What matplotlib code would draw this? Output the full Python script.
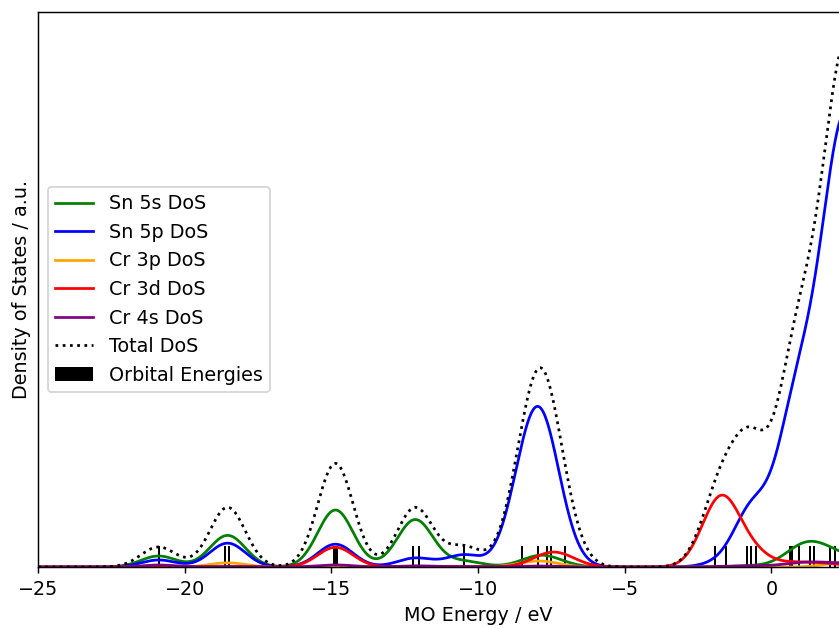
import numpy as np
import matplotlib
matplotlib.use("Agg")
import matplotlib.pyplot as plt

energies = [-20.89, -18.63, -18.49, -14.92, -14.86, -14.80, -12.21, -12.00,
            -10.47, -8.49, -7.94, -7.65, -7.52, -7.03, -1.91, -1.54,
            -0.83, -0.69, -0.51, 0.63, 0.69, 0.93, 1.31, 1.44, 1.99, 2.16,
            2.45, 2.75, 3.1, 3.5]
weights = [1, 1, 2, 2, 1.2, 2, 2, 1,
           1, 3, 4.3, 2, 2, 1, 2, 2,
           1.8, 1.9, 1.9, 3, 3, 2, 2, 3, 5, 5,
           6, 7, 6, 6]

# fragment contributions to each orbital (fraction)
sn_5s = [0.55, 0.53, 0.53, 0.55, 0.55, 0.55, 0.80, 0.80,
         0.28, 0.02, 0.08, 0.06, 0.05, 0.04, 0.0, 0.0,
         0.01, 0.01, 0.01, 0.03, 0.03, 0.15, 0.25, 0.08, 0.04, 0.04,
         0.02, 0.01, 0.01, 0.01]
sn_5p = [0.35, 0.40, 0.40, 0.22, 0.22, 0.22, 0.15, 0.15,
         0.60, 0.95, 0.88, 0.75, 0.60, 0.30, 0.04, 0.06,
         0.30, 0.58, 0.68, 0.75, 0.75, 0.80, 0.70, 0.85, 0.92, 0.90,
         0.85, 0.85, 0.85, 0.85]
cr_3p = [0.0, 0.07, 0.07, 0.01, 0.01, 0.01, 0.0, 0.0,
         0.0, 0.02, 0.04, 0.05, 0.0, 0.0, 0.0, 0.0,
         0.0, 0.0, 0.0, 0.0, 0.0, 0.0, 0.0, 0.0, 0.0, 0.012,
         0.012, 0.012, 0.012, 0.012]
cr_3d = [0.0, 0.0, 0.0, 0.19, 0.19, 0.19, 0.01, 0.01,
         0.02, 0.0, 0.02, 0.08, 0.15, 0.30, 0.90, 0.90,
         0.12, 0.12, 0.12, 0.02, 0.02, 0.02, 0.02, 0.02, 0.01, 0.01,
         0.0, 0.0, 0.0, 0.0]
cr_4s = [0.10, 0.01, 0.01, 0.02, 0.02, 0.02, 0.02, 0.02,
         0.02, 0.005, 0.005, 0.005, 0.005, 0.005, 0.005, 0.005,
         0.01, 0.01, 0.01, 0.01, 0.01, 0.03, 0.03, 0.02, 0.01, 0.01,
         0.005, 0.005, 0.005, 0.005]

sigma = 0.6       # gaussian broadening, eV
stick_height = 1.05

E = np.array(energies)
w = np.array(weights, dtype=float)
x = np.linspace(-25, 5, 4000)
g = np.exp(-(x[:, None] - E[None, :]) ** 2 / (2 * sigma ** 2))


def dos(frac):
    return g @ (w * np.array(frac))


plt.rcParams['font.size'] = 10.5

fig = plt.figure(figsize=(839 / 131, 628 / 131), dpi=131)
ax = fig.add_axes([38 / 839, 61 / 628, 880 / 839, 555 / 628])

ax.plot(x, dos(sn_5s), color='green', label='Sn 5s DoS')
ax.plot(x, dos(sn_5p), color='blue', label='Sn 5p DoS')
ax.plot(x, dos(cr_3p), color='orange', label='Cr 3p DoS')
ax.plot(x, dos(cr_3d), color='red', label='Cr 3d DoS')
ax.plot(x, dos(cr_4s), color='purple', label='Cr 4s DoS')
ax.plot(x, g @ w, color='black', linestyle=':', label='Total DoS')
ax.bar(E, stick_height, width=0.07, color='black', label='Orbital Energies')

ax.set_xlim(-25, 5)
ax.set_ylim(0, 27.75)
ax.set_yticks([])
ax.set_xticks([-25, -20, -15, -10, -5, 0])
ax.set_xlabel('MO Energy / eV')
ax.set_ylabel('Density of States / a.u.')
ax.legend(loc='center left')

fig.savefig('out.png', dpi=131)
